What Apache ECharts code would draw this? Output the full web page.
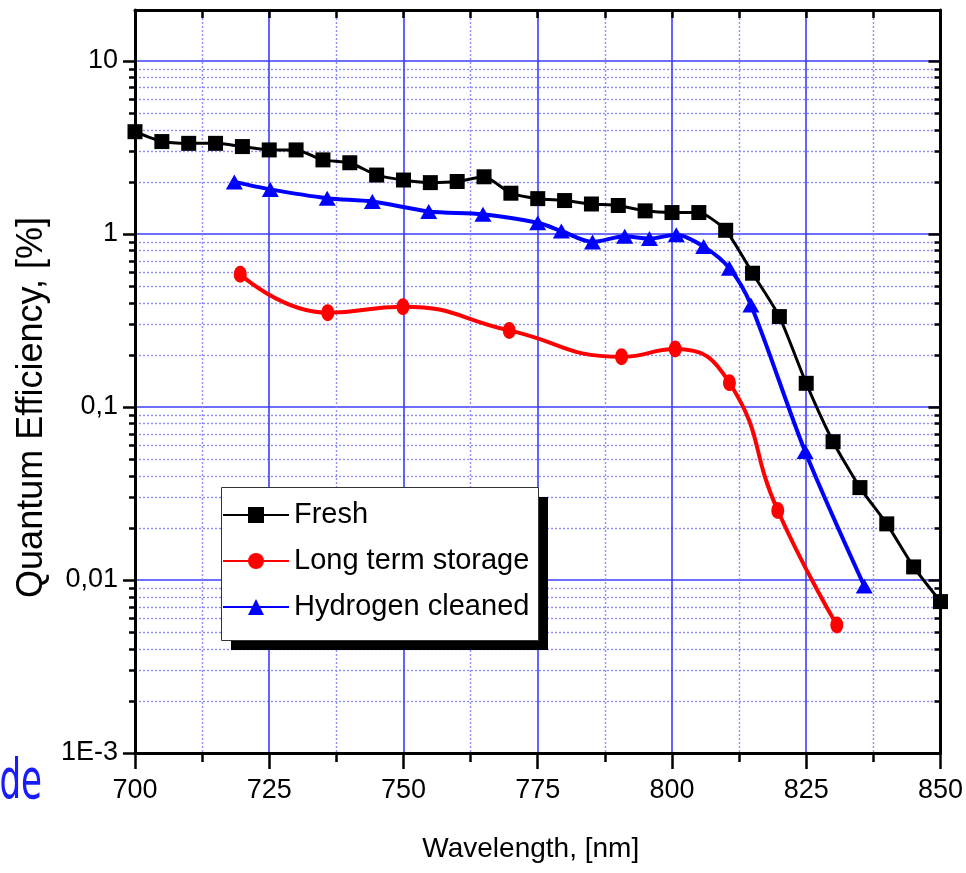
<!DOCTYPE html>
<html>
<head>
<meta charset="utf-8">
<script src="https://cdn.jsdelivr.net/npm/echarts@6/dist/echarts.min.js"></script>
<style>
  html, body { margin: 0; padding: 0; background: #fff; }
  #chart { width: 966px; height: 873px; }
</style>
</head>
<body>
<div id="chart"></div>
<script>
// Quantum efficiency (%) of the photocathode versus wavelength (nm)
const freshWavelength = [700, 705, 710, 715, 720, 725, 730, 735, 740, 745, 750, 755, 760, 765, 770, 775,
  780, 785, 790, 795, 800, 805, 810, 815, 820, 825, 830, 835, 840, 845, 850];
const freshQE = [3.9, 3.42, 3.34, 3.34, 3.2, 3.06, 3.06, 2.68, 2.58, 2.19, 2.05, 1.98, 2.01, 2.14, 1.72, 1.6,
  1.56, 1.49, 1.46, 1.36, 1.33, 1.33, 1.05, 0.593, 0.333, 0.137, 0.063, 0.0342, 0.0211, 0.0119, 0.0075];

const storageWavelength = [719.6, 735.9, 749.9, 769.7, 790.6, 800.6, 810.7, 819.7, 830.7];
const storageQE = [0.585, 0.351, 0.38, 0.277, 0.195, 0.216, 0.138, 0.0252, 0.0055];

const hydrogenWavelength = [718.5, 725.2, 735.8, 744.2, 754.7, 764.8, 775.0, 779.4, 785.2, 791.2, 795.8,
  800.8, 805.9, 810.7, 814.7, 824.8, 835.8];
const hydrogenQE = [2.0, 1.81, 1.61, 1.54, 1.35, 1.30, 1.16, 1.04, 0.90, 0.97, 0.94, 0.99, 0.845, 0.634,
  0.389, 0.0552, 0.00923];

const seriesNames = ['Fresh', 'Long term storage', 'Hydrogen cleaned'];

// Log-axis decades with their printed labels, and the 2..9 sub-divisions
const yMajorTicks = [0.001, 0.01, 0.1, 1, 10];
const yMajorLabels = ['1E-3', '0,01', '0,1', '1', '10'];
const yMinorTicks = [0.002, 0.003, 0.004, 0.005, 0.006, 0.007, 0.008, 0.009,
  0.02, 0.03, 0.04, 0.05, 0.06, 0.07, 0.08, 0.09,
  0.2, 0.3, 0.4, 0.5, 0.6, 0.7, 0.8, 0.9,
  2, 3, 4, 5, 6, 7, 8, 9];

const pairs = (xs, ys) => xs.map((x, i) => [x, ys[i]]);

const SANS = "'Liberation Sans', Arial, sans-serif";
const frame = () => ({ color: '#000', width: 3 });
const tick = () => ({ color: '#000', width: 2.5 });
const majorGrid = () => ({ color: '#3c3cff', width: 1.6, type: 'solid' });
const minorGrid = () => ({ color: '#8c8cff', width: 1.4, type: [2, 2] });

const Y_MIN = 0.001, Y_MAX = 19.7;

function logAxis(extra) {
  return Object.assign({
    type: 'log', logBase: 10, min: Y_MIN, max: Y_MAX,
    axisLine: { show: false },
    axisLabel: { show: false },
    splitLine: { show: false },
    minorTick: { show: false },
    minorSplitLine: { show: false }
  }, extra);
}

// Legend frame with its offset drop shadow
const LEGEND_BOX = { x: 221, y: 487, width: 317, height: 153 };
const LEGEND_SHADOW_OFFSET = 10;

const chart = echarts.init(document.getElementById('chart'), null, { renderer: 'canvas' });

chart.setOption({
  animation: false,
  backgroundColor: '#fff',
  grid: { left: 135, right: 25, top: 10, bottom: 120 },
  xAxis: [
    {
      type: 'value', position: 'bottom', min: 700, max: 850, interval: 25,
      axisLine: { show: true, onZero: false, lineStyle: frame() },
      axisTick: { show: true, inside: false, length: 16, lineStyle: tick() },
      minorTick: { show: true, splitNumber: 2, length: 9, lineStyle: tick() },
      axisLabel: { margin: 24, color: '#000', fontSize: 27, fontFamily: SANS },
      splitLine: { show: true, lineStyle: majorGrid() },
      minorSplitLine: { show: true, lineStyle: minorGrid() },
      name: 'Wavelength, [nm]', nameLocation: 'middle', nameGap: 82,
      nameTextStyle: { color: '#000', fontSize: 28, fontFamily: SANS, padding: [0, 14, 0, 0] }
    },
    {
      type: 'value', position: 'top', min: 700, max: 850, interval: 25,
      axisLine: { show: true, onZero: false, lineStyle: frame() },
      axisTick: { show: true, inside: true, length: 8, lineStyle: tick() },
      minorTick: { show: true, splitNumber: 2, length: 8, lineStyle: tick() },
      axisLabel: { show: false },
      splitLine: { show: false },
      minorSplitLine: { show: false }
    }
  ],
  yAxis: [
    logAxis({
      position: 'left',
      axisLine: { show: true, onZero: false, lineStyle: frame() },
      axisTick: { show: true, inside: false, length: 12, lineStyle: tick(), customValues: yMajorTicks },
      axisLabel: {
        show: true, customValues: yMajorTicks, margin: 17, color: '#000', fontSize: 27, fontFamily: SANS,
        formatter: v => {
          const i = yMajorTicks.findIndex(t => Math.abs(Math.log10(t) - Math.log10(v)) < 1e-6);
          return i >= 0 ? yMajorLabels[i] : '';
        }
      },
      splitLine: { show: true, lineStyle: majorGrid() },
      name: 'Quantum Efficiency, [%]', nameLocation: 'middle', nameGap: 82, nameRotate: 90,
      nameTextStyle: { color: '#000', fontSize: 36, fontFamily: SANS, padding: [0, 52, 0, 0] }
    }),
    logAxis({
      position: 'left',
      axisTick: { show: true, inside: false, length: 6, lineStyle: tick(), customValues: yMinorTicks },
      splitLine: { show: true, lineStyle: minorGrid() }
    }),
    logAxis({
      position: 'right',
      axisLine: { show: true, onZero: false, lineStyle: frame() },
      axisTick: { show: true, inside: true, length: 12, lineStyle: tick(), customValues: yMajorTicks }
    }),
    logAxis({
      position: 'right',
      axisTick: { show: true, inside: true, length: 6, lineStyle: tick(), customValues: yMinorTicks }
    })
  ],
  legend: {
    orient: 'vertical', left: LEGEND_BOX.x, top: LEGEND_BOX.y,
    padding: [10, 0, 0, 1],
    itemWidth: 66, itemHeight: 20, itemGap: 10,
    backgroundColor: 'transparent', borderWidth: 0,
    textStyle: { color: '#000', fontSize: 29, lineHeight: 36, fontFamily: SANS },
    z: 5,
    data: seriesNames
  },
  graphic: [
    {
      type: 'rect', silent: true, z: 4,
      shape: { x: LEGEND_BOX.x + LEGEND_SHADOW_OFFSET, y: LEGEND_BOX.y + LEGEND_SHADOW_OFFSET,
        width: LEGEND_BOX.width, height: LEGEND_BOX.height },
      style: { fill: '#000', stroke: null }
    },
    {
      type: 'rect', silent: true, z: 4,
      shape: { x: LEGEND_BOX.x + 0.5, y: LEGEND_BOX.y + 0.5, width: LEGEND_BOX.width, height: LEGEND_BOX.height },
      style: { fill: '#fff', stroke: '#333', lineWidth: 1 }
    },
    {
      type: 'text', silent: true, x: 42, y: 784, scaleX: 0.62,
      style: { text: 'de', x: 0, y: 0, align: 'right', verticalAlign: 'middle',
        textAlign: 'right', textVerticalAlign: 'middle',
        font: "55px 'DejaVu Sans', sans-serif", fill: '#1a1aff' }
    }
  ],
  series: [
    {
      name: seriesNames[0], type: 'line', xAxisIndex: 0, yAxisIndex: 0,
      data: pairs(freshWavelength, freshQE),
      smooth: 0.2, symbol: 'rect', symbolSize: 15,
      lineStyle: { color: '#000', width: 3 }, itemStyle: { color: '#000' }
    },
    {
      name: seriesNames[1], type: 'line', xAxisIndex: 0, yAxisIndex: 0,
      data: pairs(storageWavelength, storageQE),
      smooth: 0.5, symbol: 'circle', symbolSize: [13, 17],
      lineStyle: { color: '#ff0000', width: 4 }, itemStyle: { color: '#ff0000' }
    },
    {
      name: seriesNames[2], type: 'line', xAxisIndex: 0, yAxisIndex: 0,
      data: pairs(hydrogenWavelength, hydrogenQE),
      smooth: 0.3, symbol: 'triangle', symbolSize: [17, 15],
      lineStyle: { color: '#0000ff', width: 4 }, itemStyle: { color: '#0000ff' }
    }
  ]
});
</script>
</body>
</html>
